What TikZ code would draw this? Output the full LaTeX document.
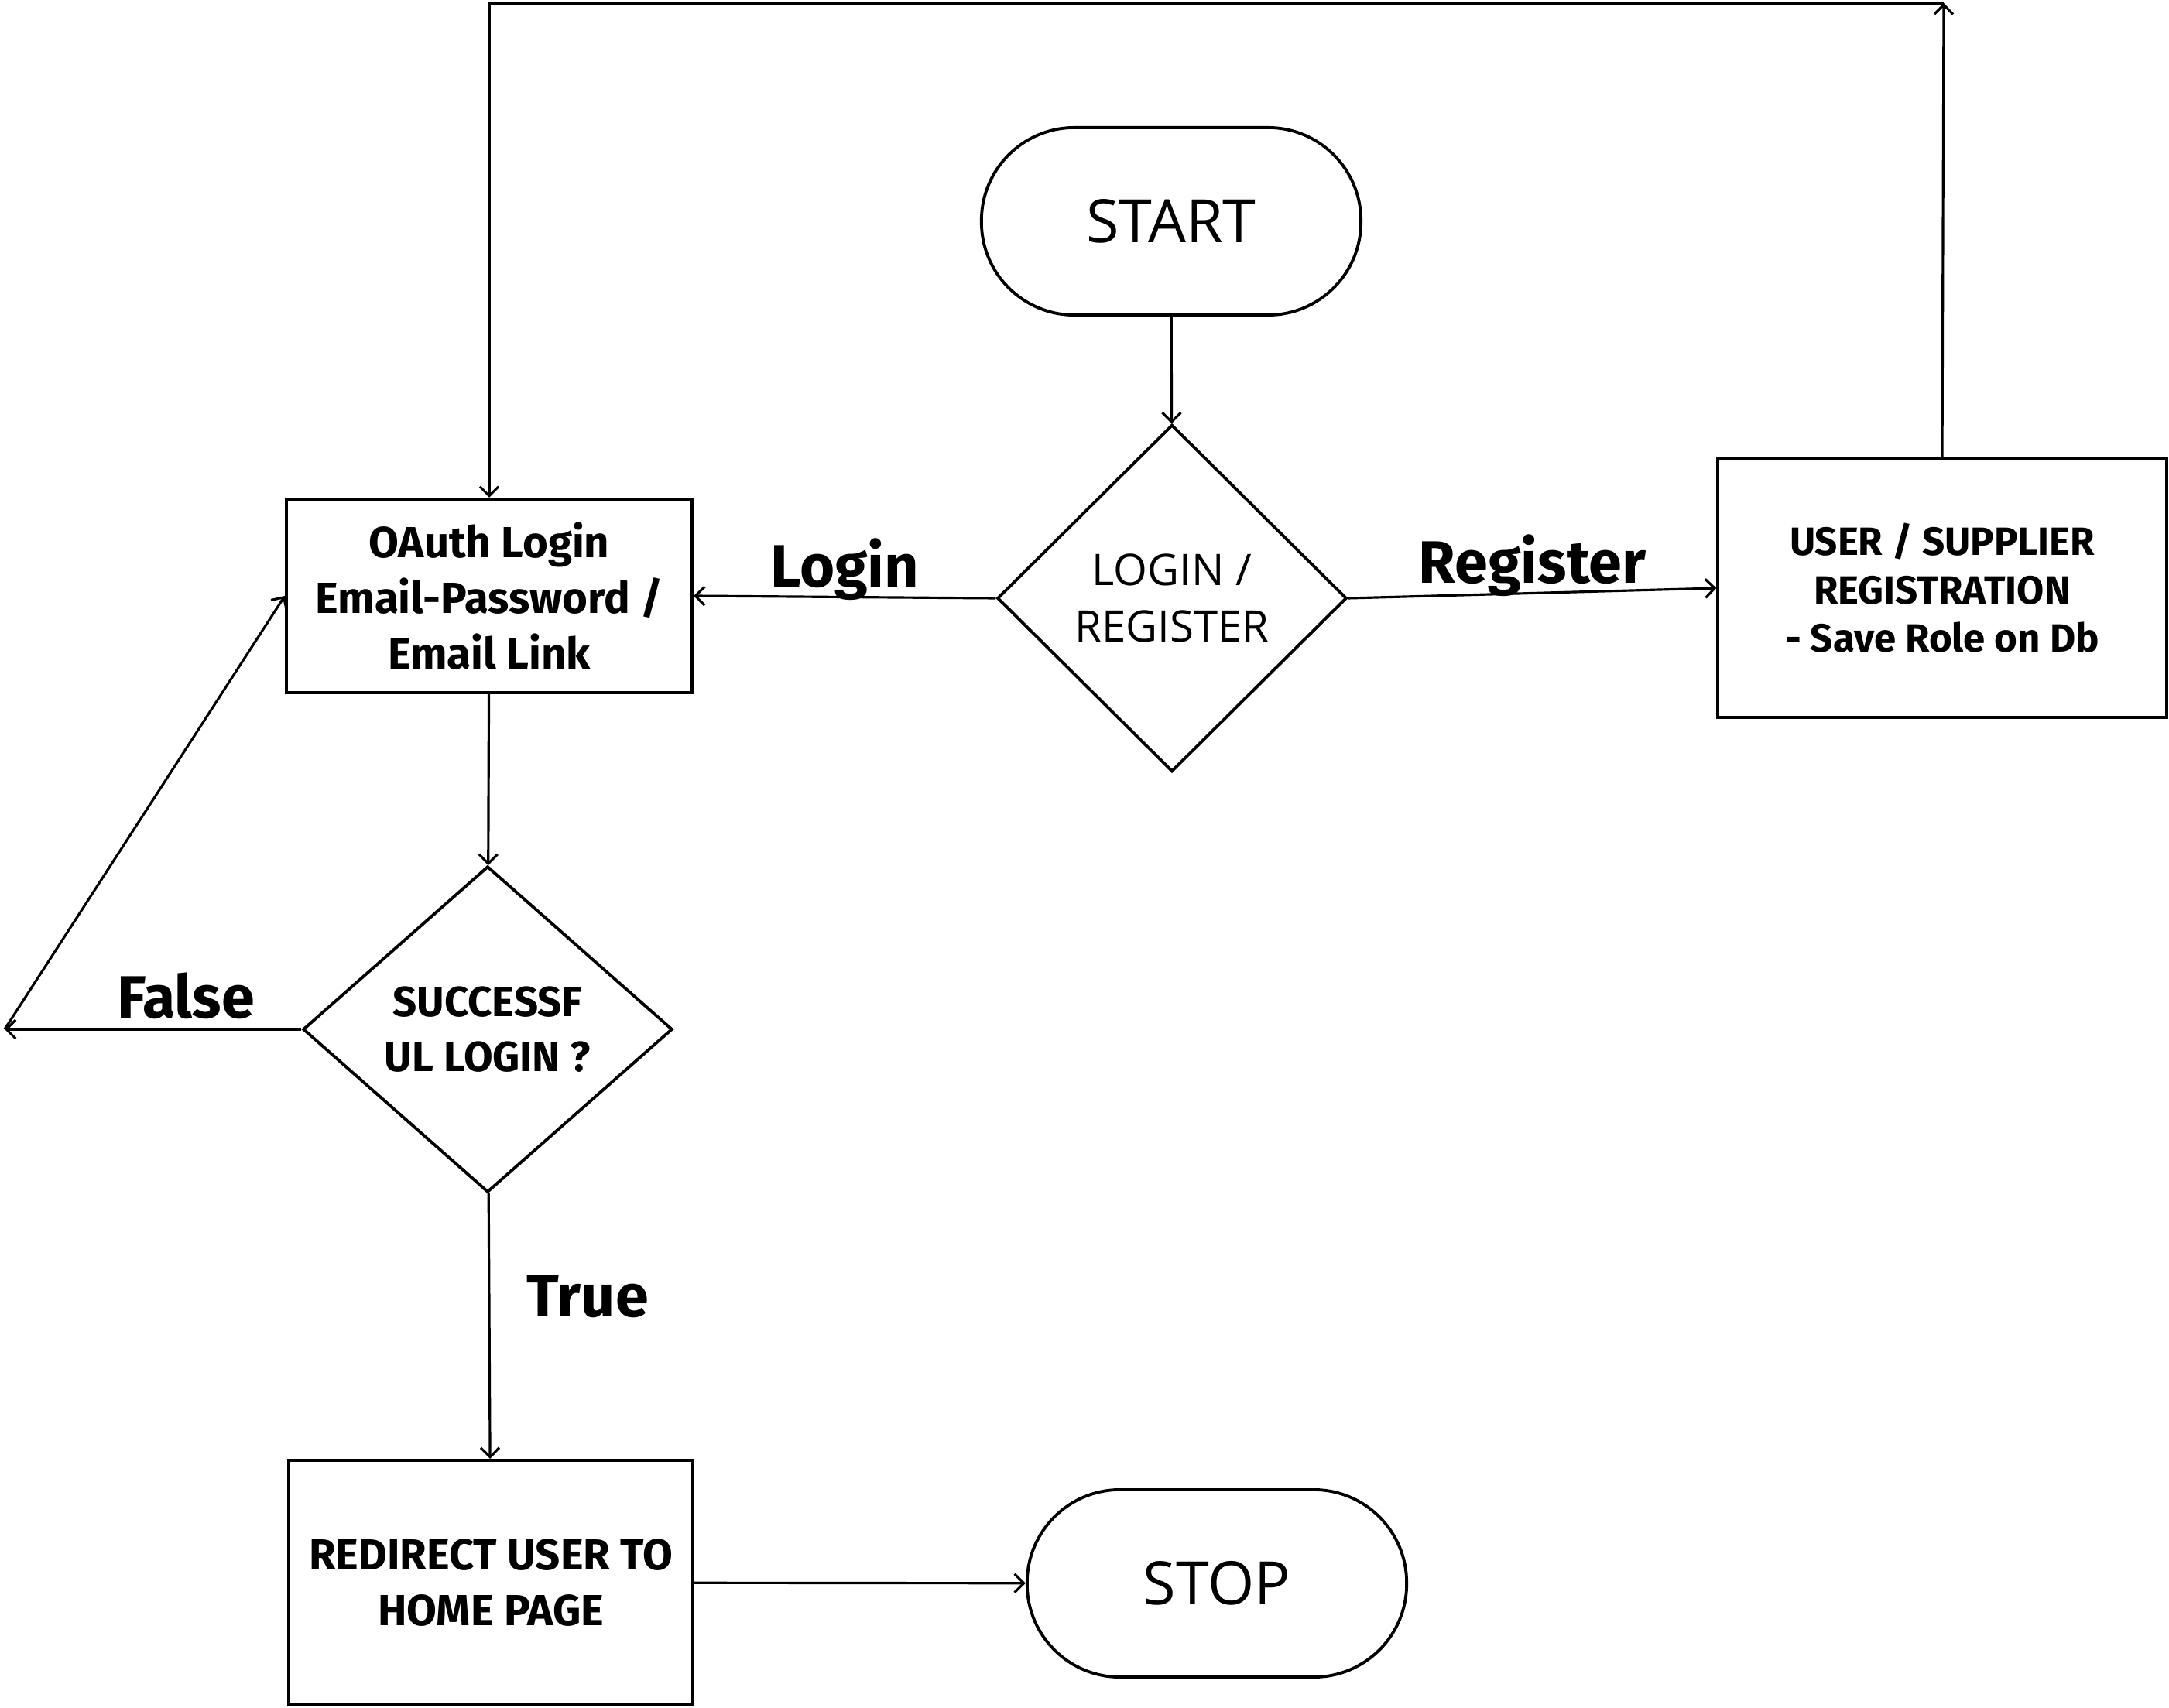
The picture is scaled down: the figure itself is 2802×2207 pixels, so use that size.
\documentclass[tikz,border=0pt]{standalone}
\usepackage{fontspec}
\setmainfont{Open Sans}
\newfontfamily\headfont{Fira Sans}
\usetikzlibrary{arrows.meta,shapes.geometric}

\begin{document}
\begin{tikzpicture}[
  x=0.01cm,y=-0.01cm,
  terminal/.style={draw,line width=1.1pt,rounded corners=12mm,
    minimum width=4.9cm,minimum height=2.42cm,
    font=\fontsize{22}{26}\selectfont},
  decision/.style={draw,diamond,line width=1.1pt,align=center,inner sep=0pt},
  process/.style={draw,line width=1.1pt,align=center,inner sep=2pt,
    font=\headfont\bfseries\fontsize{16}{20.5}\selectfont},
  edgelabel/.style={font=\headfont\bfseries\fontsize{22}{26}\selectfont},
  flow/.style={-{Straight Barb[length=1.2mm,width=2.4mm]},line width=0.9pt}
]
\useasboundingbox (0,0) rectangle (2802,2207);
% terminals
\node[terminal] (start) at (1513,286) {START};
\node[terminal] (stop) at (1572,2046) {STOP};
% decisions
\node[decision,minimum width=4.51cm,minimum height=4.48cm,
  font=\fontsize{16}{20.7}\selectfont] (choice) at (1514,773)
  {LOGIN /\\REGISTER};
\node[decision,minimum width=4.77cm,minimum height=4.21cm,
  font=\headfont\bfseries\fontsize{15.5}{20.4}\selectfont] (success) at (630,1330)
  {SUCCESSF\\UL LOGIN ?};
% processes
\node[process,minimum width=5.24cm,minimum height=2.5cm] (oauth) at (632,770)
  {OAuth Login\\Email-Password /\\Email Link};
\node[process,minimum width=5.79cm,minimum height=3.33cm,
  font=\headfont\bfseries\fontsize{14.5}{17.8}\selectfont] (register) at (2509,760)
  {USER / SUPPLIER\\REGISTRATION\\- Save Role on Db};
\node[process,minimum width=5.22cm,minimum height=3.16cm] (redirect) at (634,2045)
  {REDIRECT USER TO\\HOME PAGE};
\coordinate (topright) at (2511,4);
\coordinate (falseend) at (6,1330);
% connectors
\draw[flow] (start) -- (choice);
\draw[flow] (choice.west) -- node[above,yshift=-0.17cm,edgelabel] {Login} (oauth.east);
\draw[flow] (choice.east) -- node[above,yshift=-0.17cm,edgelabel] {Register} (register.west);
\draw[flow] (register.north) -- (topright);
\draw[flow] (topright) -| (oauth.north);
\draw[flow] (oauth) -- (success);
\draw[flow] (success.west) -- node[above,pos=0.39,edgelabel] {False} (falseend);
\draw[flow] (falseend) -- (oauth.west);
\draw[flow] (success) -- node[right,pos=0.39,xshift=0.35cm,edgelabel] {True} (redirect);
\draw[flow] (redirect) -- (stop);
\end{tikzpicture}
\end{document}
